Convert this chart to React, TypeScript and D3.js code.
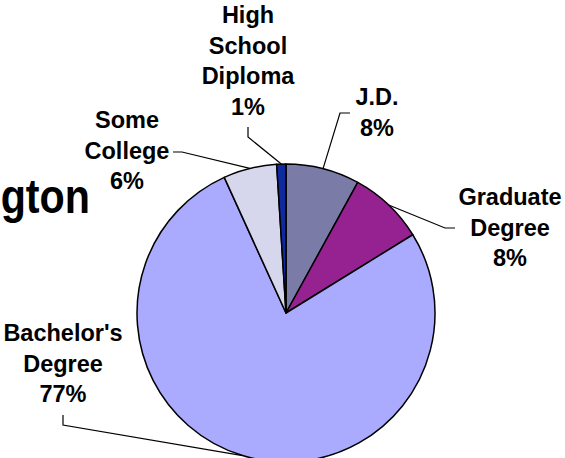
import React from "react";
import * as d3 from "d3";

const width = 565;
const height = 458;

// data
const categories = ["J.D.", "Graduate Degree", "Bachelor's Degree", "Some College", "High School Diploma"];
const values = [8, 8.2, 77, 5.8, 1];
const percentLabels = ["8%", "8%", "77%", "6%", "1%"];
const labelLines = [
  ["J.D."],
  ["Graduate", "Degree"],
  ["Bachelor's", "Degree"],
  ["Some", "College"],
  ["High", "School", "Diploma"],
];
const colors = ["#7B7BA8", "#952290", "#AAAAFF", "#D6D6EC", "#0F2A9E"];

// label placement (text centre x, first baseline y, elbow points of the leader line)
const labelLayout = [
  { x: 377, y: 105, elbow: [[350, 113], [340, 113]] },
  { x: 510, y: 205, elbow: [[455, 228], [445, 228]] },
  { x: 63, y: 341, elbow: [[63, 415], [63, 425]] },
  { x: 127, y: 128, elbow: [[173, 152], [182, 152]] },
  { x: 248, y: 23, elbow: [[248, 127], [248, 137]] },
];

const cx = 286;
const cy = 313;
const radius = 149;
const lineHeight = 30.5;

export default function App() {
  const pie = d3.pie<number>().sort(null).value((d) => d);
  const arcs = pie(values);
  const arc = d3.arc<d3.PieArcDatum<number>>().innerRadius(0).outerRadius(radius);
  const edge = d3.arc<d3.PieArcDatum<number>>().innerRadius(radius).outerRadius(radius);
  const line = d3.line();

  return (
    <svg
      width={width}
      height={height}
      style={{ position: "absolute", left: 0, top: 0, background: "#fff" }}
      fontFamily="'Liberation Sans', Arial, sans-serif"
    >
      <text x={90} y={213} textAnchor="end" fontSize={48} fontWeight="bold" fill="#000"
        transform="translate(90,0) scale(0.86,1) translate(-90,0)">
        Washington
      </text>
      <g transform={`translate(${cx},${cy})`}>
        {arcs.map((a, i) => (
          <path key={i} d={arc(a) || ""} fill={colors[i]} stroke="#000" strokeWidth={1.5} strokeLinejoin="round" />
        ))}
      </g>
      {arcs.map((a, i) => {
        const [ex, ey] = edge.centroid(a);
        const pts = [...labelLayout[i].elbow, [cx + ex, cy + ey]] as [number, number][];
        return <path key={i} d={line(pts) || ""} fill="none" stroke="#000" strokeWidth={1.2} />;
      })}
      {categories.map((c, i) => {
        const rows = [...labelLines[i], percentLabels[i]];
        const lay = labelLayout[i];
        return (
          <text key={c} textAnchor="middle" fontSize={23.5} fontWeight="bold" fill="#000">
            {rows.map((r, j) => (
              <tspan key={j} x={lay.x} y={lay.y + j * lineHeight}>
                {r}
              </tspan>
            ))}
          </text>
        );
      })}
    </svg>
  );
}
